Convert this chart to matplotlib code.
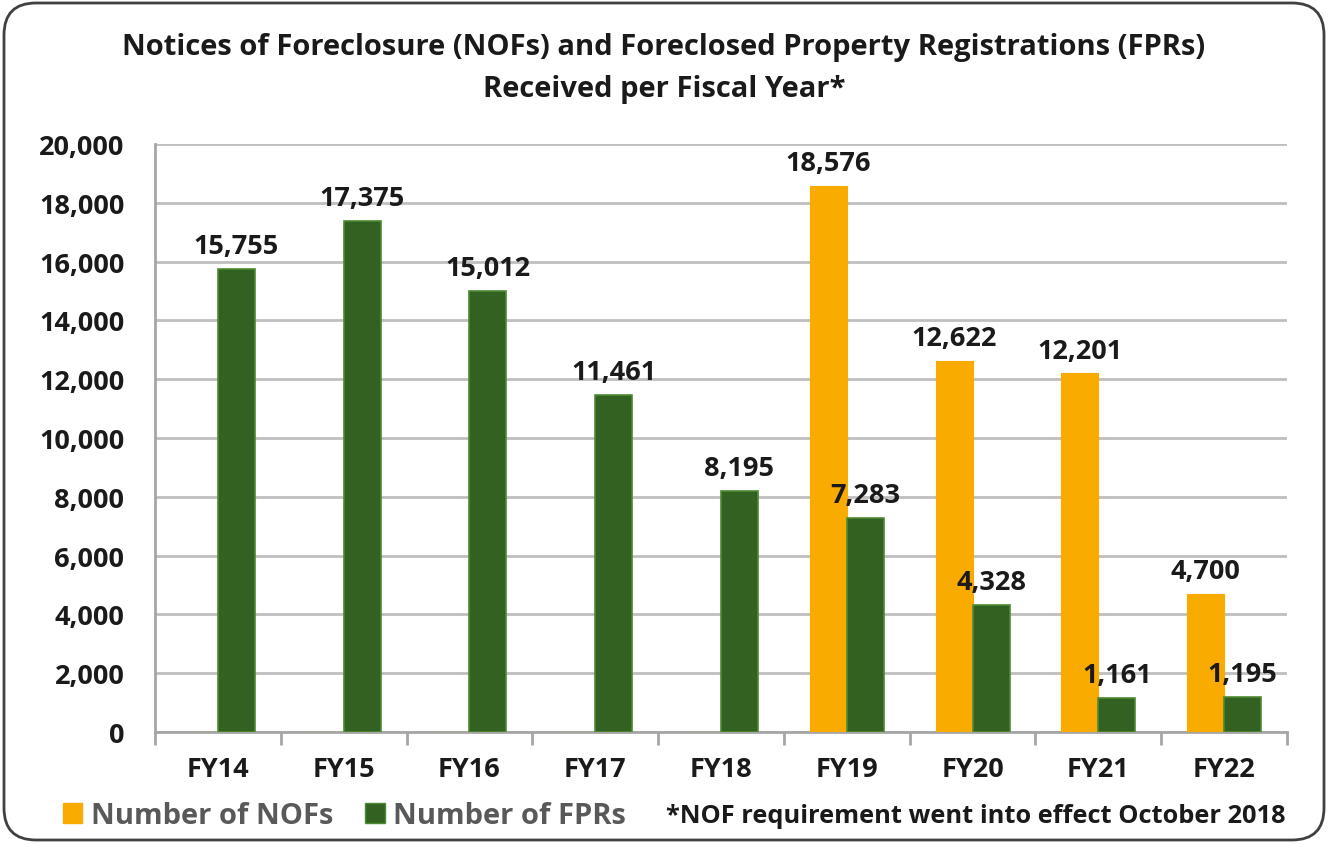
import matplotlib
matplotlib.use("Agg")
import matplotlib.pyplot as plt
import numpy as np
from matplotlib.patches import FancyBboxPatch, Patch
from matplotlib.transforms import IdentityTransform

years = ["FY14", "FY15", "FY16", "FY17", "FY18", "FY19", "FY20", "FY21", "FY22"]
nofs = [None, None, None, None, None, 18576, 12622, 12201, 4700]
fprs = [15755, 17375, 15012, 11461, 8195, 7283, 4328, 1161, 1195]

orange = "#F9AB00"
green = "#336122"
green_edge = "#4E8A34"
grid_c = "#BFBFBF"

plt.rcParams["font.family"] = ["Open Sans", "DejaVu Sans"]

fig = plt.figure(figsize=(13.28, 8.45), dpi=100)

# rounded border round the whole chart
border = FancyBboxPatch((4, 4), 1320, 837, boxstyle="round,pad=0,rounding_size=32",
                        transform=IdentityTransform(), facecolor="white",
                        edgecolor="#404040", linewidth=2, zorder=-10)
fig.patches.append(border)

ax = fig.add_axes([155 / 1328, 1 - 733 / 845, 1132 / 1328, 588 / 845])
ax.set_facecolor("none")

x = np.arange(len(years))
w = 0.294
nof_vals = [v if v is not None else 0 for v in nofs]
b1 = ax.bar(x - w / 2, nof_vals, w, color=orange, edgecolor=orange, linewidth=0.8, zorder=3)
b2 = ax.bar(x + w / 2, fprs, w, color=green, edgecolor=green_edge, linewidth=1.2, zorder=3)

lab_kw = dict(textcoords="offset points", ha="center", va="bottom",
              fontsize=19.5, fontweight="bold", color="#1a1a1a")
for rect, v in zip(b1, nofs):
    if v is None:
        continue
    ax.annotate(f"{v:,}", (rect.get_x() + rect.get_width() / 2, v), xytext=(0, 7), **lab_kw)
for rect, v in zip(b2, fprs):
    ax.annotate(f"{v:,}", (rect.get_x() + rect.get_width() / 2, v), xytext=(0, 7), **lab_kw)

ax.set_xlim(-0.5, len(years) - 0.5)
ax.set_ylim(0, 20000)
ax.set_yticks(np.arange(0, 20001, 2000))
ax.set_yticklabels([f"{v:,}" for v in range(0, 20001, 2000)], fontsize=19.5,
                   fontweight="bold", color="#1a1a1a")
ax.tick_params(axis="y", length=0, pad=22)
ax.yaxis.grid(True, color=grid_c, linewidth=2, zorder=0)
ax.set_axisbelow(True)

ax.set_xticks(np.arange(-0.5, len(years), 1))
ax.set_xticklabels([])
ax.set_xticks(x, minor=True)
ax.set_xticklabels(years, minor=True, fontsize=19.5, fontweight="bold", color="#1a1a1a")
ax.tick_params(axis="x", which="major", length=9, width=2, color="#A6A6A6")
ax.tick_params(axis="x", which="minor", length=0, pad=17)

for s in ["top", "right"]:
    ax.spines[s].set_visible(False)
for s in ["left", "bottom"]:
    ax.spines[s].set_color("#A6A6A6")
    ax.spines[s].set_linewidth(2)

fig.text(0.5, 1 - 48 / 845, "Notices of Foreclosure (NOFs) and Foreclosed Property Registrations (FPRs)",
         ha="center", va="center", fontsize=21, fontweight="bold", color="#1a1a1a")
fig.text(0.5, 1 - 90 / 845, "Received per Fiscal Year*",
         ha="center", va="center", fontsize=21, fontweight="bold", color="#1a1a1a")

handles = [Patch(facecolor=orange, edgecolor=orange), Patch(facecolor=green, edgecolor=green_edge)]
leg = fig.legend(handles, ["Number of NOFs", "Number of FPRs"], loc="center left",
                 bbox_to_anchor=(63 / 1328, 1 - 817 / 845), ncol=2, frameon=False,
                 borderpad=0, borderaxespad=0,
                 handlelength=0.66, handleheight=0.66, handletextpad=0.3, columnspacing=1.1,
                 prop={"size": 21, "weight": "bold"})
for t in leg.get_texts():
    t.set_color("#595959")

fig.text(1285 / 1328, 1 - 817 / 845, "*NOF requirement went into effect October 2018",
         ha="right", va="center", fontsize=18.3, fontweight="bold", color="#1a1a1a")

fig.savefig("out.png", dpi=100)
